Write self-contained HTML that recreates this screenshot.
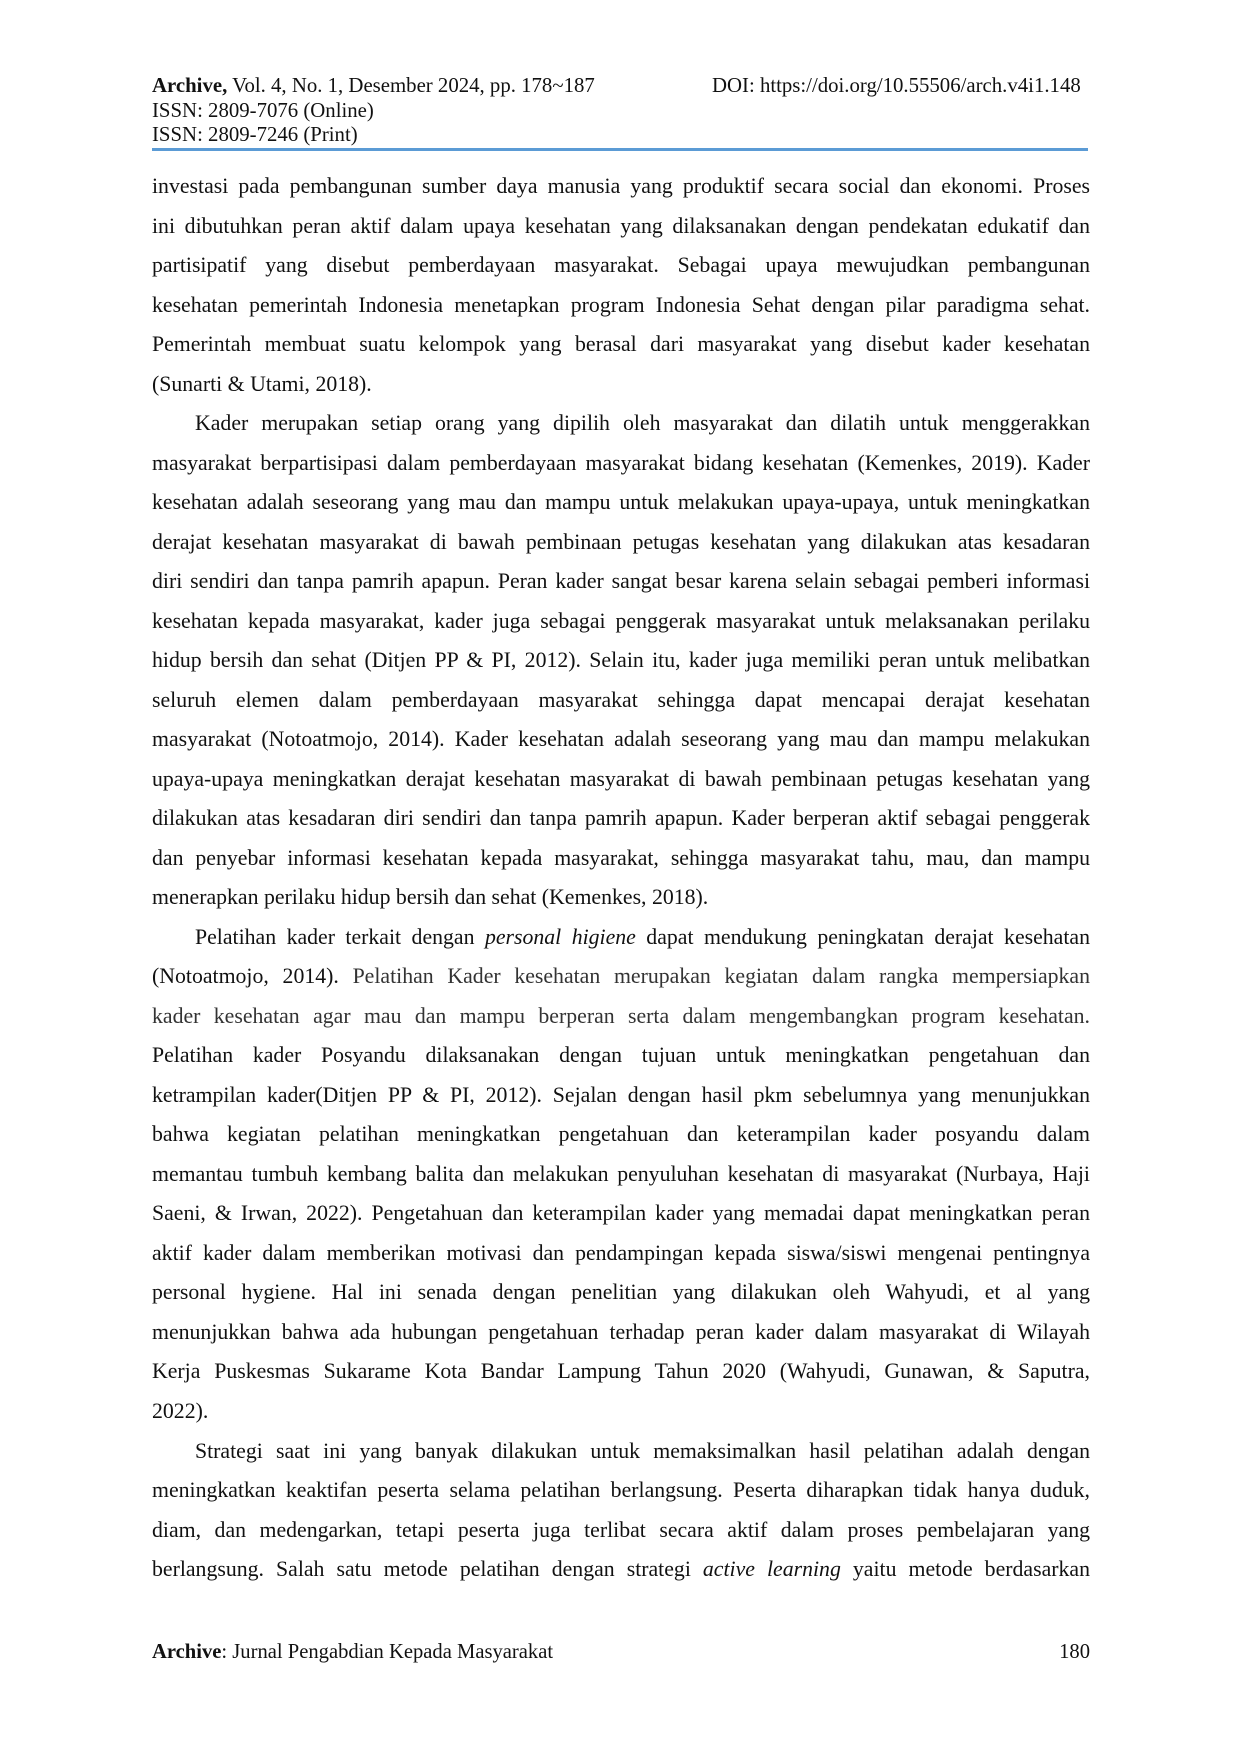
<!DOCTYPE html>
<html><head><meta charset="utf-8">
<style>
html,body{margin:0;padding:0;background:#fff;}
body{width:1240px;height:1754px;position:relative;font-family:"Liberation Serif",serif;color:#111;}
.hdr{position:absolute;left:152px;font-size:20.8px;line-height:24px;}
.rule{position:absolute;left:152px;top:148px;width:936px;height:3px;background:#5b9bd5;}
.body{position:absolute;left:152px;top:167px;width:938px;font-size:21.8px;line-height:39.53px;}
.l{display:block;text-align:justify;text-align-last:justify;white-space:nowrap;overflow:hidden;height:39.53px;}
.e{text-align-last:left;}
.i{text-indent:43px;}
.g{color:#333;}
.ft{position:absolute;top:1641px;font-size:20.6px;}
</style></head><body>
<div class="hdr" style="top:74px;"><b>Archive,</b> Vol. 4, No. 1, Desember 2024, pp. 178~187</div>
<div class="hdr" style="top:74px;left:712px;">DOI: https://doi.org/10.55506/arch.v4i1.148</div>
<div class="hdr" style="top:99px;">ISSN: 2809-7076 (Online)</div>
<div class="hdr" style="top:123px;">ISSN: 2809-7246 (Print)</div>
<div class="rule"></div>
<div class="body">
<span class="l">investasi pada pembangunan sumber daya manusia yang produktif secara social dan ekonomi. Proses</span>
<span class="l">ini dibutuhkan peran aktif dalam upaya kesehatan yang dilaksanakan dengan pendekatan edukatif dan</span>
<span class="l">partisipatif yang disebut pemberdayaan masyarakat. Sebagai upaya mewujudkan pembangunan</span>
<span class="l">kesehatan pemerintah Indonesia menetapkan program Indonesia Sehat dengan pilar paradigma sehat.</span>
<span class="l">Pemerintah membuat suatu kelompok yang berasal dari masyarakat yang disebut kader kesehatan</span>
<span class="l e">(Sunarti &amp; Utami, 2018).</span>
<span class="l i">Kader merupakan setiap orang yang dipilih oleh masyarakat dan dilatih untuk menggerakkan</span>
<span class="l">masyarakat berpartisipasi dalam pemberdayaan masyarakat bidang kesehatan (Kemenkes, 2019). Kader</span>
<span class="l">kesehatan adalah seseorang yang mau dan mampu untuk melakukan upaya-upaya, untuk meningkatkan</span>
<span class="l">derajat kesehatan masyarakat di bawah pembinaan petugas kesehatan yang dilakukan atas kesadaran</span>
<span class="l">diri sendiri dan tanpa pamrih apapun. Peran kader sangat besar karena selain sebagai pemberi informasi</span>
<span class="l">kesehatan kepada masyarakat, kader juga sebagai penggerak masyarakat untuk melaksanakan perilaku</span>
<span class="l">hidup bersih dan sehat (Ditjen PP &amp; PI, 2012). Selain itu, kader juga memiliki peran untuk melibatkan</span>
<span class="l">seluruh elemen dalam pemberdayaan masyarakat sehingga dapat mencapai derajat kesehatan</span>
<span class="l">masyarakat (Notoatmojo, 2014). Kader kesehatan adalah seseorang yang mau dan mampu melakukan</span>
<span class="l">upaya-upaya meningkatkan derajat kesehatan masyarakat di bawah pembinaan petugas kesehatan yang</span>
<span class="l">dilakukan atas kesadaran diri sendiri dan tanpa pamrih apapun. Kader berperan aktif sebagai penggerak</span>
<span class="l">dan penyebar informasi kesehatan kepada masyarakat, sehingga masyarakat tahu, mau, dan mampu</span>
<span class="l e">menerapkan perilaku hidup bersih dan sehat (Kemenkes, 2018).</span>
<span class="l i">Pelatihan kader terkait dengan <i>personal higiene</i> dapat mendukung peningkatan derajat kesehatan</span>
<span class="l">(Notoatmojo, 2014). <span class="g">Pelatihan Kader kesehatan merupakan kegiatan dalam rangka mempersiapkan</span></span>
<span class="l g">kader kesehatan agar mau dan mampu berperan serta dalam mengembangkan program kesehatan.</span>
<span class="l">Pelatihan kader Posyandu dilaksanakan dengan tujuan untuk meningkatkan pengetahuan dan</span>
<span class="l">ketrampilan kader(Ditjen PP &amp; PI, 2012). Sejalan dengan hasil pkm sebelumnya yang menunjukkan</span>
<span class="l">bahwa kegiatan pelatihan meningkatkan pengetahuan dan keterampilan kader posyandu dalam</span>
<span class="l">memantau tumbuh kembang balita dan melakukan penyuluhan kesehatan di masyarakat (Nurbaya, Haji</span>
<span class="l">Saeni, &amp; Irwan, 2022). Pengetahuan dan keterampilan kader yang memadai dapat meningkatkan peran</span>
<span class="l">aktif kader dalam memberikan motivasi dan pendampingan kepada siswa/siswi mengenai pentingnya</span>
<span class="l">personal hygiene. Hal ini senada dengan penelitian yang dilakukan oleh Wahyudi, et al yang</span>
<span class="l">menunjukkan bahwa ada hubungan pengetahuan terhadap peran kader dalam masyarakat di Wilayah</span>
<span class="l">Kerja Puskesmas Sukarame Kota Bandar Lampung Tahun 2020 (Wahyudi, Gunawan, &amp; Saputra,</span>
<span class="l e">2022).</span>
<span class="l i">Strategi saat ini yang banyak dilakukan untuk memaksimalkan hasil pelatihan adalah dengan</span>
<span class="l">meningkatkan keaktifan peserta selama pelatihan berlangsung. Peserta diharapkan tidak hanya duduk,</span>
<span class="l">diam, dan medengarkan, tetapi peserta juga terlibat secara aktif dalam proses pembelajaran yang</span>
<span class="l">berlangsung. Salah satu metode pelatihan dengan strategi <i>active learning</i> yaitu metode berdasarkan</span>
</div>
<div class="ft" style="left:152px;"><b>Archive</b>: Jurnal Pengabdian Kepada Masyarakat</div>
<div class="ft" style="right:150px;">180</div>
</body></html>
